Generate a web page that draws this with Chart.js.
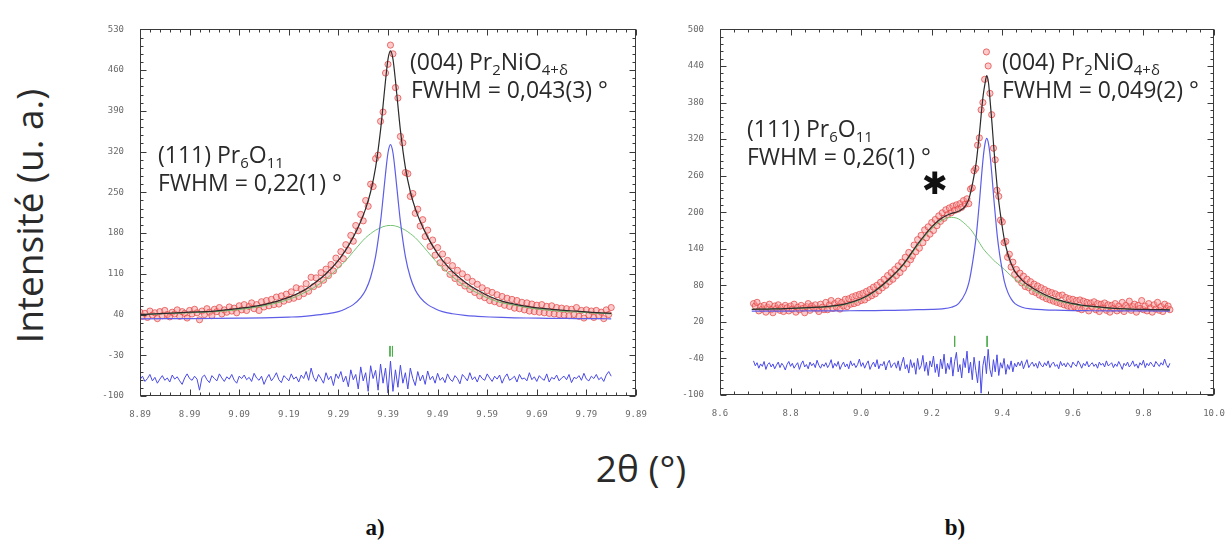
<!DOCTYPE html>
<html>
<head>
<meta charset="utf-8">
<script src="https://cdn.jsdelivr.net/npm/chart.js@4.4.1/dist/chart.umd.min.js"></script>
<style>
  body { margin: 0; width: 1225px; height: 545px; background: #fff; position: relative; overflow: hidden; font-family: "Open Sans", sans-serif; color: #2a2a2a; }
  canvas { position: absolute; }
  .t { position: absolute; white-space: nowrap; font-size: 23px; line-height: 1; }
  sub { font-size: 0.65em; position: relative; top: 0.35em; vertical-align: baseline; line-height: 0; }
  .ytitle { position: absolute; left: 28px; top: 216px; transform: translate(-50%, -50%) rotate(-90deg); font-size: 37px; white-space: nowrap; }
  .xtitle { position: absolute; left: 641px; top: 467px; transform: translate(-50%, -50%); font-size: 37px; white-space: nowrap; }
  .lab { position: absolute; top: 528px; transform: translate(-50%, -50%); font-family: "Liberation Serif", serif; font-weight: bold; font-size: 23px; color: #111; }
  .star { position: absolute; left: 935px; top: 183px; transform: translate(-50%, -50%); font-family: "DejaVu Sans", sans-serif; font-size: 31px; color: #111; }
</style>
</head>
<body>
<canvas id="chartA" width="561" height="420" style="left:95px;top:8px"></canvas>
<canvas id="chartB" width="550" height="420" style="left:675px;top:8px"></canvas>

<div class="ytitle">Intensité (u. a.)</div>
<div class="xtitle">2θ (°)</div>
<div class="lab" style="left:375px">a)</div>
<div class="lab" style="left:955px">b)</div>

<div class="t" style="left:410px;top:50px">(004) Pr<sub>2</sub>NiO<sub>4+δ</sub></div>
<div class="t" style="left:411px;top:78px">FWHM = 0,043(3) °</div>
<div class="t" style="left:158px;top:143px">(111) Pr<sub>6</sub>O<sub>11</sub></div>
<div class="t" style="left:158px;top:171px">FWHM = 0,22(1) °</div>

<div class="t" style="left:1002px;top:50px">(004) Pr<sub>2</sub>NiO<sub>4+δ</sub></div>
<div class="t" style="left:1002px;top:78px">FWHM = 0,049(2) °</div>
<div class="t" style="left:747px;top:117px">(111) Pr<sub>6</sub>O<sub>11</sub></div>
<div class="t" style="left:747px;top:145px">FWHM = 0,26(1) °</div>
<div class="star">✱</div>

<script>
// ---------- panel a) ----------
// observed points, 2theta from 8.89 in steps of 0.005
const aStart = 8.89, aStep = 0.005;
const aObs = [
  44,37,42,35,46,39,43,33,45,38,47,40,36,44,41,48,37,45,42,34,47,
  41,49,43,31,46,40,50,44,38,49,45,52,41,48,44,53,46,51,43,55,
  48,57,47,54,60,50,57,47,62,53,64,55,66,57,70,58,72,63,75,66,
  79,68,86,71,84,76,93,80,104,88,103,92,112,99,118,107,126,115,137,126,
  148,136,160,150,176,166,193,184,212,201,236,226,264,260,308,314,372,388,455,470,
  503,
  488,430,412,346,335,284,282,243,248,214,221,192,203,174,185,157,168,142,155,129,
  144,120,133,109,124,102,116,95,110,89,104,83,97,78,92,72,86,69,81,64,
  78,62,74,59,71,56,68,54,66,51,64,50,61,48,60,46,58,45,56,44,
  57,43,54,42,55,41,52,40,51,39,50,38,49,40,52,37,47,34,48,39,
  46,35,47,38,44,33,48,40,52
];
// observed - calculated, shifted below the pattern
const aDiff = [
  -72,-66,-75,-70,-63,-74,-68,-78,-71,-65,-73,-69,-76,-64,-71,-67,-74,-80,-69,-62,-70,
  -73,-66,-71,-90,-68,-64,-72,-77,-65,-70,-74,-62,-69,-75,-67,-71,-63,-73,-78,-66,
  -70,-64,-72,-68,-75,-61,-69,-73,-66,-80,-70,-63,-74,-68,-60,-72,-77,-65,-69,-74,
  -62,-71,-67,-76,-64,-70,-58,-73,-52,-68,-75,-63,-70,-78,-60,-72,-66,-82,-62,-70,
  -58,-76,-66,-84,-55,-72,-63,-88,-50,-74,-60,-92,-48,-70,-56,-90,-45,-78,-52,-95,
  -40,-92,-55,-85,-47,-78,-60,-88,-52,-70,-82,-58,-74,-64,-80,-57,-72,-66,-78,-61,
  -73,-68,-77,-62,-71,-75,-65,-70,-79,-63,-68,-74,-60,-72,-67,-76,-64,-70,-73,-62,
  -69,-75,-66,-71,-64,-78,-68,-62,-73,-70,-66,-76,-63,-71,-69,-74,-60,-72,-67,-75,
  -65,-70,-73,-62,-76,-68,-71,-64,-74,-69,-66,-72,-63,-77,-68,-70,-65,-73,-61,-71,
  -74,-66,-70,-63,-72,-68,-75,-64,-58,-66
];
// calculated profiles
const aCalcX = [8.89,8.94,8.99,9.04,9.09,9.14,9.19,9.215,9.24,9.265,9.29,9.305,9.32,9.335,9.345,9.355,9.365,9.375,9.38,9.385,9.39,9.395,9.4,9.405,9.41,9.415,9.425,9.435,9.445,9.455,9.47,9.485,9.5,9.52,9.545,9.57,9.595,9.62,9.645,9.67,9.695,9.72,9.745,9.77,9.795,9.82,9.84];
const aTotal = [40,42,44,46,50.5,57,69.5,79,93,110,133,151,173,200,222,251,293,357,399,442,479,493,479,442,399,357,293,251,222,200,173,151,133,114,96,82,71,63,58,54,51,49,47,46,44,43,42];
const aPr6O11 = [40,41.5,43,45,48.5,55,66,75,86,101,120,133,148,163,172,179,185,189,191,192,193,193,193,192,191,189,185,179,172,163,148,133,120,105,89,77,67,60,56,52,49,47,45,44.5,43,42,41];
const aPr2NiO4 = [32.6,32.8,33,33.3,33.7,34.3,35.6,36.5,38.4,41,45,50,57,69,82,104,140,200,240,282,318,332,318,282,240,200,140,104,82,69,57,50,45,41.4,38.6,37,35.8,35,34.4,34,33.7,33.5,33.3,33.1,33,32.8,32.7];
const aBragg = [9.394, 9.399];
const aBraggY = [-14, -32];

// ---------- panel b) ----------
const bStart = 8.695, bStep = 0.005;
const bObs = [
  50,46,52,38,45,41,47,36,44,49,40,35,46,42,48,39,44,37,47,43,
  38,46,41,49,36,44,40,47,42,35,45,50,39,46,43,48,41,37,49,44,40,
  52,40,48,55,42,50,44,54,41,52,46,57,45,58,49,61,50,63,52,65,
  55,67,56,70,60,73,63,77,66,80,71,85,76,90,80,96,86,101,90,106,
  96,112,101,118,108,126,115,134,122,128,146,135,155,141,162,150,171,158,176,164,
  183,170,188,178,194,185,199,190,204,196,207,199,210,203,212,205,214,208,219,213,
  222,214,238,240,268,272,310,322,368,380,418,463,440,395,360,305,286,236,226,187,
  184,150,152,126,131,110,118,98,106,90,
  100,84,95,78,90,76,86,70,82,68,79,64,76,61,73,58,70,56,68,54,
  66,52,63,50,64,48,60,46,58,44,57,45,55,42,56,40,54,43,52,38,
  51,44,53,40,50,37,49,43,51,39,48,36,47,42,50,38,46,41,52,37,
  47,43,54,39,45,49,36,47,42,55,40,46,38,50,43,36,48,41,52,39,
  45,37,49,42,46,40
];
const bDiff = [
  -44,-52,-47,-56,-49,-53,-45,-58,-50,-47,-54,-49,-57,-51,-46,-55,-48,-52,-59,-50,
  -45,-53,-48,-56,-51,-47,-58,-49,-44,-54,-50,-57,-46,-52,-48,-55,-43,-51,-56,-49,-53,
  -47,-55,-50,-42,-56,-48,-53,-45,-58,-51,-46,-54,-49,-57,-44,-52,-48,-55,-50,-41,
  -53,-47,-56,-49,-44,-58,-51,-46,-54,-42,-57,-49,-52,-45,-59,-48,-43,-55,-50,-47,
  -56,-44,-60,-48,-38,-57,-50,-64,-42,-55,-47,-66,-40,-58,-52,-35,-61,-46,-68,-44,
  -54,-36,-63,-49,-70,-41,-57,-33,-65,-48,-58,-38,-69,-45,-30,-62,-50,-72,-40,-55,
  -28,-64,-46,-75,-38,-60,-80,-44,-97,-52,-36,-65,-25,-58,-70,-42,-62,-34,-68,-47,
  -56,-40,-66,-50,-58,-44,-62,-48,-54,-46,
  -52,-44,-57,-49,-42,-55,-50,-46,-53,-48,-56,-45,-51,-54,-47,-52,-44,-55,-49,-46,
  -53,-50,-57,-45,-52,-48,-54,-47,-51,-55,-46,-50,-53,-44,-49,-56,-48,-52,-45,-54,
  -50,-47,-53,-49,-56,-46,-51,-48,-54,-44,-52,-50,-47,-55,-49,-53,-45,-51,-58,-48,
  -52,-46,-54,-50,-44,-53,-49,-56,-47,-51,-43,-55,-48,-52,-46,-50,-54,-45,-49,-53,
  -47,-51,-41,-50,-55,-48
];
const bCalcX = [8.69,8.75,8.8,8.85,8.9,8.95,9.0,9.04,9.08,9.12,9.16,9.2,9.23,9.256,9.276,9.296,9.306,9.316,9.326,9.331,9.336,9.341,9.346,9.351,9.356,9.361,9.366,9.371,9.376,9.381,9.386,9.391,9.396,9.406,9.416,9.426,9.436,9.456,9.486,9.52,9.55,9.6,9.65,9.7,9.75,9.8,9.875];
const bTotal = [40.6,41.2,42.3,43.4,45,48.7,57.9,71.1,90.4,114.7,147.5,176,191,198,201.5,210.5,223,248,281,306.5,333.5,365,392.5,411,424,412,379.5,344.5,305.5,270.5,238.5,213,191.5,154.5,131,114.5,102.5,88.5,75.5,64.8,57.7,50.1,45.8,43.1,41.5,40.4,39.8];
const bPr6O11 = [40.5,41,42,43,44.5,48,57,70,89,113,145,173,187,191.5,189,180,174.5,167.5,158.5,154,149,144.5,140,136.5,133,130,127,124,121,118,116,113.5,111,106,100.5,95,90,82,72,62.5,56,49,45,42.5,41,40,39.5];
const bPr2NiO4 = [37.6,37.7,37.8,37.9,38,38.2,38.4,38.6,38.9,39.2,40,40.5,41.5,44,50,68,86,118,160,190,222,258,290,312,321,312,290,258,222,190,160,137,118,86,68,57,50,44,41,39.8,39.2,38.6,38.3,38.1,38,37.9,37.8];
const bBragg = [9.265, 9.357];
const bBraggY = [-3, -21];

// ---------- helpers ----------
const onGrid = (start, step, ys) => ys.map((v, i) => ({ x: +(start + i * step).toFixed(3), y: v }));
const pairs = (xs, ys) => xs.map((v, i) => ({ x: v, y: ys[i] }));

// frame with inward ticks on all four sides
const frameTicks = {
  id: 'frameTicks',
  afterDatasetsDraw(chart, args, o) {
    const { ctx, chartArea: a, scales: { x, y } } = chart;
    const L = Math.round(a.left) + 0.5, R = Math.round(a.right) - 0.5;
    const T = Math.round(a.top) + 0.5, B = Math.round(a.bottom) - 0.5;
    ctx.save();
    ctx.strokeStyle = '#3a3a3a';
    ctx.lineWidth = 1;
    ctx.beginPath();
    const nx = Math.round((x.max - x.min) / o.xMinor);
    for (let k = 0; k <= nx; k++) {
      const px = Math.round(x.getPixelForValue(x.min + k * o.xMinor)) + 0.5;
      const len = k % o.every === 0 ? 6 : 3;
      ctx.moveTo(px, B); ctx.lineTo(px, B - len);
      ctx.moveTo(px, T); ctx.lineTo(px, T + len);
    }
    const ny = Math.round((y.max - y.min) / o.yMinor);
    for (let k = 0; k <= ny; k++) {
      const py = Math.round(y.getPixelForValue(y.min + k * o.yMinor)) + 0.5;
      const len = k % o.every === 0 ? 6 : 3;
      ctx.moveTo(L, py); ctx.lineTo(L + len, py);
      ctx.moveTo(R, py); ctx.lineTo(R - len, py);
    }
    ctx.stroke();
    ctx.strokeRect(L, T, R - L, B - T);
    ctx.restore();
  }
};

const tickFont = { family: 'DejaVu Sans Mono', size: 9 };

function makeChart(id, p) {
  const datasets = [
    { data: onGrid(p.start, p.step, p.obs), showLine: false, pointRadius: 3.1, pointBorderWidth: 1,
      pointBorderColor: 'rgba(226,64,64,0.7)', pointBackgroundColor: 'rgba(250,150,150,0.5)', order: 6 },
    { data: pairs(p.calcX, p.broad), borderColor: '#74c474', borderWidth: 1, pointRadius: 0, cubicInterpolationMode: 'monotone', order: 5 },
    { data: pairs(p.calcX, p.narrow), borderColor: '#5d5de8', borderWidth: 1.2, pointRadius: 0, cubicInterpolationMode: 'monotone', order: 4 },
    { data: onGrid(p.start, p.step, p.diff), borderColor: '#4a4ae6', borderWidth: 1, pointRadius: 0, order: 3 },
    { data: pairs(p.calcX, p.total), borderColor: '#2b2b2b', borderWidth: 1.2, pointRadius: 0, cubicInterpolationMode: 'monotone', order: 1 }
  ];
  p.bragg.forEach(b => datasets.push({
    data: [{ x: b, y: p.braggY[0] }, { x: b, y: p.braggY[1] }],
    borderColor: '#4fae4f', borderWidth: 1, pointRadius: 0, order: 2
  }));

  return new Chart(document.getElementById(id), {
    type: 'line',
    data: { datasets },
    options: {
      responsive: false,
      animation: false,
      layout: { padding: p.pad },
      plugins: {
        legend: { display: false },
        tooltip: { enabled: false },
        frameTicks: { xMinor: p.xMinor, yMinor: p.yMinor, every: 5 }
      },
      scales: {
        x: {
          type: 'linear', min: p.xMin, max: p.xMax,
          grid: { display: false, drawTicks: false },
          border: { display: false },
          ticks: { stepSize: p.xStep, autoSkip: false, maxRotation: 0, padding: 13, font: tickFont, color: '#6a6a6a',
                   callback: v => v.toFixed(p.xDec) },
          afterFit: s => { s.height = p.xH; s.paddingLeft = 0; s.paddingRight = 0; }
        },
        y: {
          min: p.yMin, max: p.yMax,
          grid: { display: false, drawTicks: false },
          border: { display: false },
          ticks: { stepSize: p.yStep, autoSkip: false, padding: 16, font: tickFont, color: '#6a6a6a' },
          afterFit: s => { s.width = 45; }
        }
      }
    },
    plugins: [frameTicks]
  });
}

makeChart('chartA', {
  start: aStart, step: aStep, obs: aObs, diff: aDiff,
  calcX: aCalcX, total: aTotal, broad: aPr6O11, narrow: aPr2NiO4,
  bragg: aBragg, braggY: aBraggY,
  xMin: 8.89, xMax: 9.89, xStep: 0.1, xMinor: 0.02, xDec: 2,
  yMin: -100, yMax: 530, yStep: 70, yMinor: 14,
  xH: 32, pad: { left: 0, right: 20, top: 13, bottom: 0 }
});

makeChart('chartB', {
  start: bStart, step: bStep, obs: bObs, diff: bDiff,
  calcX: bCalcX, total: bTotal, broad: bPr6O11, narrow: bPr2NiO4,
  bragg: bBragg, braggY: bBraggY,
  xMin: 8.6, xMax: 10.0, xStep: 0.2, xMinor: 0.04, xDec: 1,
  yMin: -100, yMax: 500, yStep: 60, yMinor: 12,
  xH: 33, pad: { left: 0, right: 11, top: 20, bottom: 0 }
});
</script>
</body>
</html>
